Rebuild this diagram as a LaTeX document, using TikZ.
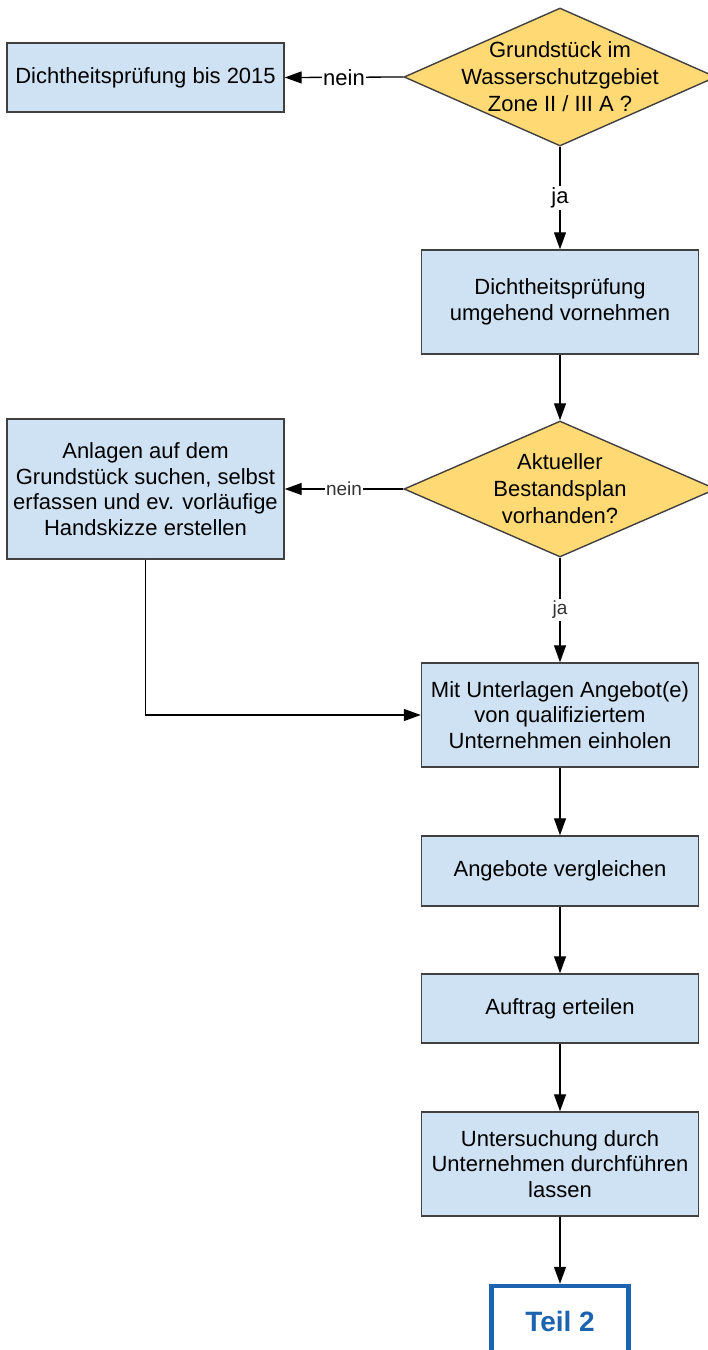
\documentclass[tikz,border=0pt]{standalone}
\usepackage{fontspec}
\setmainfont{Liberation Sans}
\usetikzlibrary{shapes.geometric}
\usetikzlibrary{arrows.meta}
\definecolor{blue1}{RGB}{207, 226, 243}
\definecolor{yellow1}{RGB}{255, 217, 115}
\definecolor{blue2}{RGB}{28, 99, 176}
\definecolor{gray1}{RGB}{64, 64, 64}

\tikzset{
  proc/.style={rectangle, draw=gray1, fill=blue1, line width=1.4pt, inner sep=0pt,
    minimum width=277pt, align=center, font=\fontsize{22}{25.5}\selectfont},
  decision/.style={diamond, draw=gray1, fill=yellow1, line width=1.4pt, inner sep=0pt,
    minimum width=312pt, minimum height=138pt},
  dtext/.style={align=center, font=\fontsize{22}{27}\selectfont},
  lbl/.style={fill=white, inner xsep=1.5pt, inner ysep=2pt, font=\fontsize{22}{25}\selectfont},
  lblsmall/.style={fill=white, inner xsep=1pt, inner ysep=2pt, text=black!80, font=\fontsize{19}{22}\selectfont},
  teil/.style={rectangle, draw=blue2, line width=4.5pt, inner sep=0pt, minimum width=137pt,
    minimum height=70pt, text=blue2, font=\fontsize{28}{32}\selectfont\bfseries}
}

\begin{document}
\begin{tikzpicture}[x=1pt, y=-1pt, line width=1.3pt, >={Triangle[length=17pt,width=12pt]}]
  \useasboundingbox (0,0) rectangle (708,1350);
  \clip (0,0) rectangle (708,1350);

  \node[decision, label={[dtext]center:Grundstück im\\Wasserschutzgebiet\\Zone II / III A ?}] (d1) at (560,77) {};
  \node[proc, minimum height=69pt] (b1) at (145.5,77.5) {Dichtheitsprüfung bis 2015};
  \node[proc, minimum height=104pt] (b2) at (560,302) {Dichtheitsprüfung\\umgehend vornehmen};

  \node[decision, minimum height=136pt, label={[dtext]center:Aktueller\\Bestandsplan\\vorhanden?}] (d2) at (560,489) {};
  \node[proc, minimum height=140pt] (b3) at (145.5,489) {Anlagen auf dem\\Grundstück suchen, selbst\\erfassen und ev. vorläufige\\Handskizze erstellen};

  \node[proc, minimum height=104pt] (b4) at (560,715) {Mit Unterlagen Angebot(e)\\von qualifiziertem\\Unternehmen einholen};
  \node[proc, minimum height=70pt] (b5) at (560,871) {Angebote vergleichen};
  \node[proc, minimum height=69pt] (b6) at (560,1008.5) {Auftrag erteilen};
  \node[proc, minimum height=104pt] (b7) at (560,1164) {Untersuchung durch\\Unternehmen durchführen\\lassen};
  \node[teil] (t2) at (560,1321) {Teil 2};

  \draw[->] (d1.west) -- node[lbl] {nein} (b1.east);
  \draw[->] (d1.south) -- node[lbl] {ja} (b2.north);
  \draw[->] (d2.west) -- node[lblsmall] {nein} (b3.east);
  \draw[->] (d2.south) -- node[lblsmall] {ja} (b4.north);
  \draw[->] (b3.south) |- (b4.west);

  \foreach \from/\to in {b2/d2, b4/b5, b5/b6, b6/b7, b7/t2}
    \draw[->] (\from.south) -- (\to.north);
\end{tikzpicture}
\end{document}
